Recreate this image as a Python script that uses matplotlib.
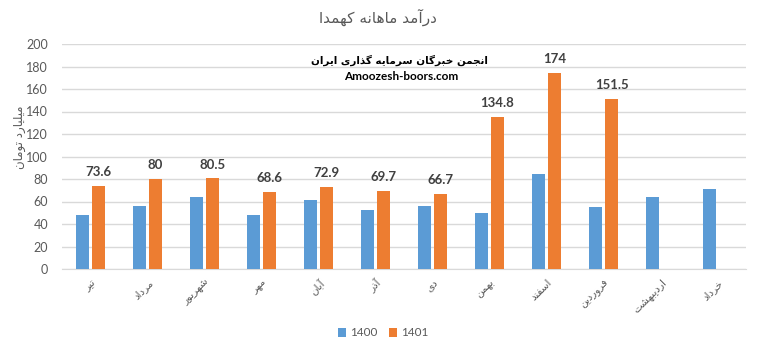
import numpy as np
import matplotlib
matplotlib.use("Agg")
import matplotlib.pyplot as plt

# ---------------- data ----------------
months = ["تیر", "مرداد", "شهریور", "مهر", "آبان", "آذر", "دی", "بهمن",
          "اسفند", "فروردین", "اردیبهشت", "خرداد"]
series_names = ["1400", "1401"]
values_1400 = [48.3, 56.4, 63.6, 48.3, 61.2, 52.3, 55.9, 49.9, 84.1, 55.5, 63.6, 70.7]
values_1401 = [73.6, 80, 80.5, 68.6, 72.9, 69.7, 66.7, 134.8, 174, 151.5, np.nan, np.nan]
yticks = [0, 20, 40, 60, 80, 100, 120, 140, 160, 180, 200]

title_text = "درآمد ماهانه کهمدا"
ylabel_text = "میلیارد تومان"
watermark_fa = "انجمن خبرگان سرمایه گذاری ایران"
watermark_en = "Amoozesh-boors.com"

# ---------------- minimal Persian shaper ----------------
FORMS = {
    'ا': ('\uFE8D', '\uFE8E'), 'آ': ('\uFE81', '\uFE82'),
    'ب': ('\uFE8F', '\uFE90', '\uFE91', '\uFE92'),
    'پ': ('\uFB56', '\uFB57', '\uFB58', '\uFB59'),
    'ت': ('\uFE95', '\uFE96', '\uFE97', '\uFE98'),
    'ث': ('\uFE99', '\uFE9A', '\uFE9B', '\uFE9C'),
    'ج': ('\uFE9D', '\uFE9E', '\uFE9F', '\uFEA0'),
    'چ': ('\uFB7A', '\uFB7B', '\uFB7C', '\uFB7D'),
    'ح': ('\uFEA1', '\uFEA2', '\uFEA3', '\uFEA4'),
    'خ': ('\uFEA5', '\uFEA6', '\uFEA7', '\uFEA8'),
    'د': ('\uFEA9', '\uFEAA'), 'ذ': ('\uFEAB', '\uFEAC'),
    'ر': ('\uFEAD', '\uFEAE'), 'ز': ('\uFEAF', '\uFEB0'),
    'ژ': ('\uFB8A', '\uFB8B'),
    'س': ('\uFEB1', '\uFEB2', '\uFEB3', '\uFEB4'),
    'ش': ('\uFEB5', '\uFEB6', '\uFEB7', '\uFEB8'),
    'ص': ('\uFEB9', '\uFEBA', '\uFEBB', '\uFEBC'),
    'ض': ('\uFEBD', '\uFEBE', '\uFEBF', '\uFEC0'),
    'ط': ('\uFEC1', '\uFEC2', '\uFEC3', '\uFEC4'),
    'ظ': ('\uFEC5', '\uFEC6', '\uFEC7', '\uFEC8'),
    'ع': ('\uFEC9', '\uFECA', '\uFECB', '\uFECC'),
    'غ': ('\uFECD', '\uFECE', '\uFECF', '\uFED0'),
    'ف': ('\uFED1', '\uFED2', '\uFED3', '\uFED4'),
    'ق': ('\uFED5', '\uFED6', '\uFED7', '\uFED8'),
    'ک': ('\uFB8E', '\uFB8F', '\uFB90', '\uFB91'),
    'گ': ('\uFB92', '\uFB93', '\uFB94', '\uFB95'),
    'ل': ('\uFEDD', '\uFEDE', '\uFEDF', '\uFEE0'),
    'م': ('\uFEE1', '\uFEE2', '\uFEE3', '\uFEE4'),
    'ن': ('\uFEE5', '\uFEE6', '\uFEE7', '\uFEE8'),
    'ه': ('\uFEE9', '\uFEEA', '\uFEEB', '\uFEEC'),
    'و': ('\uFEED', '\uFEEE'),
    'ی': ('\uFBFC', '\uFBFD', '\uFBFE', '\uFBFF'),
}


def fa(s):
    out = []
    for i, c in enumerate(s):
        if c not in FORMS:
            out.append(c)
            continue
        prev = s[i - 1] if i > 0 else None
        nxt = s[i + 1] if i + 1 < len(s) else None
        forms = FORMS[c]
        jp = prev in FORMS and len(FORMS[prev]) == 4
        jn = nxt in FORMS and len(forms) == 4
        if jp and jn:
            out.append(forms[3])
        elif jp:
            out.append(forms[1])
        elif jn:
            out.append(forms[2])
        else:
            out.append(forms[0])
    return ''.join(out)[::-1]


# ---------------- plot ----------------
plt.rcParams['font.family'] = ['Lato', 'DejaVu Sans']
FA_FONT = ['DejaVu Sans']
GRAY = '#595959'
BLUE = '#5B9BD5'
ORANGE = '#ED7D31'

W, H = 757, 351
fig = plt.figure(figsize=(W / 100, H / 100), dpi=100)
ax = fig.add_axes([62 / W, 1 - 269 / H, (746 - 62) / W, (269 - 44) / H])

x = np.arange(len(months))
bw = 13 / 57
off = 8 / 57
ax.bar(x - off, values_1400, bw, color=BLUE, label=series_names[0], zorder=3)
ax.bar(x + off, values_1401, bw, color=ORANGE, label=series_names[1], zorder=3)

for xi, v in zip(x, values_1401):
    if np.isnan(v):
        continue
    ax.annotate(f"{v:g}", (xi + off, v), xytext=(0, 10), textcoords='offset points',
                ha='center', va='center', fontsize=9.5, fontweight='bold', color='#404040')

ax.set_xlim(-0.5, len(months) - 0.5)
ax.set_ylim(0, 200)
ax.set_yticks(yticks)
ax.yaxis.grid(True, color='#D9D9D9', linewidth=1, zorder=0)
ax.set_axisbelow(True)
for s in ['top', 'right', 'left']:
    ax.spines[s].set_visible(False)
ax.spines['bottom'].set_color('#D9D9D9')
ax.tick_params(axis='y', length=0, labelsize=9, labelcolor=GRAY, pad=10)
ax.tick_params(axis='x', length=0, pad=6)
ax.set_xticks(x)
ax.set_xticklabels([fa(m) for m in months], rotation=45, ha='right', va='top',
                   rotation_mode='anchor', fontsize=7.5, color=GRAY, family=FA_FONT)

fig.text(378 / W, 1 - 17 / H, fa(title_text), ha='center', va='center',
         fontsize=11, color=GRAY, family=FA_FONT)
fig.text(19 / W, 1 - 137 / H, fa(ylabel_text), ha='center', va='center', rotation=90,
         fontsize=8.5, color=GRAY, family=FA_FONT)
fig.text(399 / W, 1 - 60 / H, fa(watermark_fa), ha='center', va='center',
         fontsize=7.5, fontweight='bold', color='black', family=FA_FONT)
fig.text(401 / W, 1 - 77 / H, watermark_en, ha='center', va='center',
         fontsize=8.5, fontweight='bold', color='black')

leg = fig.legend(loc='center', bbox_to_anchor=(383 / W, 1 - 333 / H), ncol=2, frameon=False,
                 fontsize=8.5, handlelength=0.7, handleheight=0.7, handletextpad=0.3,
                 columnspacing=1.0)
for t in leg.get_texts():
    t.set_color(GRAY)

fig.savefig('out.png', dpi=100)
